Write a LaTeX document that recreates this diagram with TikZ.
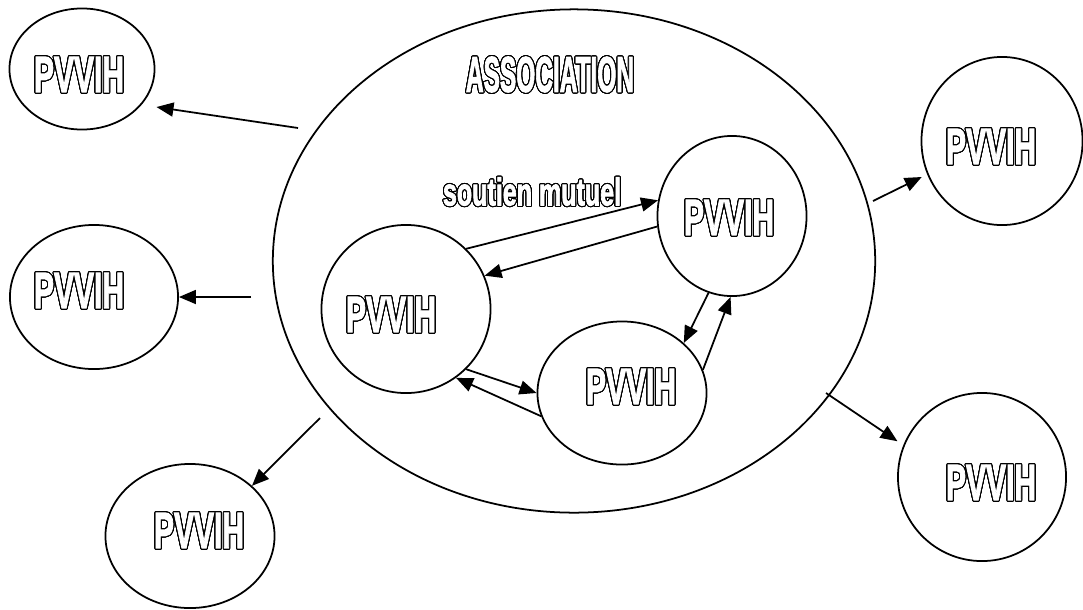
\documentclass[tikz,border=0pt]{standalone}
\usepackage{fontspec}
\usepackage{graphicx}
\usepackage[copies]{contour}
\setmainfont{Liberation Sans}
\newfontfamily\heavyfont{Liberation Sans Bold}[FakeBold=2.5]
\usetikzlibrary{shapes.geometric, arrows.meta}
\contourlength{0.3pt}
\contournumber{32}
% hollow (outlined) condensed lettering: width, height, text
\newcommand{\hollow}[3]{{\color{white}\contour{black}{\resizebox{#1}{#2}{\heavyfont #3}}}}
\tikzset{
  member/.style  = {ellipse, draw, line width=0.5pt, inner sep=0pt},   % one PVVIH
  tag/.style     = {inner sep=0pt},
  link/.style    = {-{Triangle[length=1.7mm, width=1.4mm]}, line width=0.5pt}
}

\begin{document}
\begin{tikzpicture}[x=0.01cm, y=-0.01cm]
  \useasboundingbox (0,0) rectangle (1083,609);
  % association
  \node[member, minimum width=6.02cm, minimum height=5.03cm] (assoc) at (574,261) {};
  \node[tag] (assoc-txt) at (550,75) {\hollow{16.8mm}{3.5mm}{ASSOCIATION}};
  % members inside
  \node[member, minimum width=1.69cm, minimum height=1.68cm] (in-l) at (406,309) {};
  \node[member, minimum width=1.49cm, minimum height=1.60cm] (in-r) at (732,216) {};
  \node[member, minimum width=1.69cm, minimum height=1.43cm] (in-b) at (622,393) {};
  \node[tag] (in-l-txt) at (391,315) {\hollow{9mm}{3.5mm}{PVVIH}};
  \node[tag] (in-r-txt) at (729,218) {\hollow{9mm}{3.5mm}{PVVIH}};
  \node[tag] (in-b-txt) at (631,387) {\hollow{9mm}{3.5mm}{PVVIH}};
  \node[tag] (mutual) at (532,192) {\hollow{17.8mm}{2.8mm}{soutien mutuel}};
  % members outside
  \node[member, minimum width=1.45cm, minimum height=1.21cm] (tl) at (82,69) {};
  \node[member, minimum width=1.68cm, minimum height=1.44cm] (ml) at (94,297) {};
  \node[member, minimum width=1.69cm, minimum height=1.44cm] (bl) at (190,536) {};
  \node[member, minimum width=1.61cm, minimum height=1.68cm] (tr) at (1002,141) {};
  \node[member, minimum width=1.68cm, minimum height=1.68cm] (br) at (982,477) {};
  \node[tag] (tl-txt) at (79,75) {\hollow{9mm}{3.5mm}{PVVIH}};
  \node[tag] (ml-txt) at (79,291) {\hollow{9mm}{3.5mm}{PVVIH}};
  \node[tag] (bl-txt) at (199,531) {\hollow{9mm}{3.5mm}{PVVIH}};
  \node[tag] (tr-txt) at (991,147) {\hollow{9mm}{3.5mm}{PVVIH}};
  \node[tag] (br-txt) at (991,483) {\hollow{9mm}{3.5mm}{PVVIH}};
  % mutual support
  \draw[link] (in-l.45) -- (in-r.168);
  \draw[link] (in-r.188) -- (in-l.23);
  \draw[link] (in-l.315) -- (in-b.180);
  \draw[link] (in-b.196) -- (in-l.306);
  \draw[link] (in-r.253) -- (in-b.39);
  \draw[link] (in-b.16) -- (in-r.269);
  % outreach
  \coordinate (s1) at (298,128);
  \coordinate (s2) at (251,297);
  \coordinate (s3) at (320,418);
  \coordinate (s4) at (873,201);
  \coordinate (s5) at (826,393);
  \draw[link, shorten >=1.5mm] (s1) -- (tl.329);
  \draw[link] (s2) -- (ml.east);
  \draw[link] (s3) -- (bl.39);
  \draw[link, shorten >=0.6mm] (s4) -- (tr.204);
  \draw[link, shorten >=0.7mm] (s5) -- (br.158);
\end{tikzpicture}
\end{document}
